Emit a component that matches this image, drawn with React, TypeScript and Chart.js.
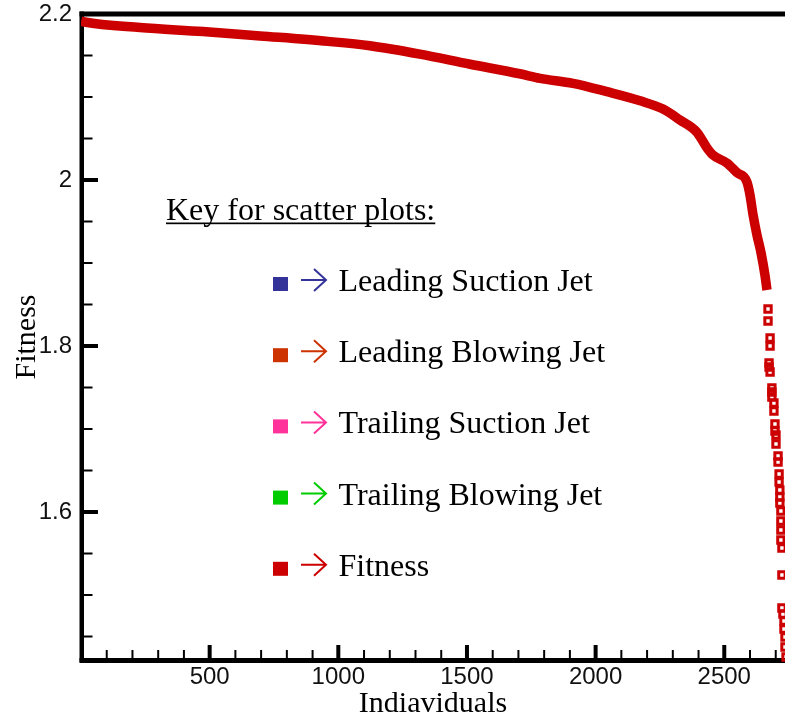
import React, { useEffect, useRef } from 'react';
import { Chart, registerables } from 'chart.js';

Chart.register(...registerables);

// Dense part of the sorted fitness curve (individual index, fitness)
const BAND_X = [0, 14, 229, 474, 696, 960, 1123, 1317, 1512, 1705, 1784, 1912, 2044, 2173, 2262, 2328, 2394, 2433, 2456, 2510, 2549, 2588, 2600, 2612, 2627, 2643, 2658, 2666];
const BAND_Y = [2.1916, 2.1904, 2.1837, 2.1789, 2.1736, 2.1670, 2.1617, 2.1516, 2.1395, 2.1280, 2.1225, 2.1165, 2.1064, 2.0954, 2.0855, 2.0723, 2.0575, 2.0386, 2.0301, 2.0205, 2.0090, 1.9976, 1.9819, 1.9578, 1.9337, 1.9120, 1.8855, 1.8675];

// Sparse tail of individual markers
const TAIL_X = [2670, 2670, 2678, 2678, 2674, 2674, 2678, 2685, 2685, 2685, 2693, 2693, 2697, 2697, 2701, 2701, 2709, 2709, 2713, 2713, 2716, 2716, 2716, 2720, 2720, 2720, 2720, 2724, 2724, 2724, 2728, 2732, 2732, 2736, 2736, 2740];
const TAIL_Y = [1.8446, 1.8301, 1.8096, 1.8000, 1.7795, 1.7747, 1.7687, 1.7494, 1.7446, 1.7386, 1.7313, 1.7217, 1.7060, 1.6976, 1.6928, 1.6819, 1.6675, 1.6602, 1.6458, 1.6361, 1.6265, 1.6181, 1.6108, 1.6012, 1.5892, 1.5783, 1.5663, 1.5566, 1.5241, 1.4843, 1.4771, 1.4687, 1.4590, 1.4494, 1.4373, 1.4253];

const X_TICKS = [100, 200, 300, 400, 500, 600, 700, 800, 900, 1000, 1100, 1200, 1300, 1400, 1500, 1600, 1700, 1800, 1900, 2000, 2100, 2200, 2300, 2400, 2500, 2600, 2700];
const X_LABELED = [500, 1000, 1500, 2000, 2500];
const Y_TICKS = [1.45, 1.5, 1.55, 1.6, 1.65, 1.7, 1.75, 1.8, 1.85, 1.9, 1.95, 2.0, 2.05, 2.1, 2.15, 2.2];
const Y_LABELED = [1.6, 1.8, 2.0, 2.2];

const KEY_TITLE = 'Key for scatter plots:';
const KEY_LABELS = ['Leading Suction Jet', 'Leading Blowing Jet', 'Trailing Suction Jet', 'Trailing Blowing Jet', 'Fitness'];
const KEY_COLORS = ['#333399', '#CC3300', '#FF3399', '#00CC00', '#CC0000'];

const FIT_COLOR = '#CC0000';

const framePlugin = {
  id: 'frame',
  beforeDatasetsDraw(chart: any) {
    const { ctx, chartArea: a, scales } = chart;
    const x = scales.x;
    const y = scales.y;
    ctx.save();
    ctx.strokeStyle = '#000';
    ctx.lineCap = 'butt';
    x.ticks.forEach((t: any) => {
      const px = x.getPixelForValue(t.value);
      const major = X_LABELED.includes(t.value);
      ctx.lineWidth = major ? 4 : 2;
      ctx.beginPath();
      ctx.moveTo(px, a.bottom);
      ctx.lineTo(px, a.bottom - (major ? 15 : 10));
      ctx.stroke();
    });
    y.ticks.forEach((t: any) => {
      const py = y.getPixelForValue(t.value);
      const major = Y_LABELED.includes(t.value);
      ctx.lineWidth = major ? 4 : 2;
      ctx.beginPath();
      ctx.moveTo(a.left, py);
      ctx.lineTo(a.left + (major ? 17 : 11.5), py);
      ctx.stroke();
    });
    ctx.lineWidth = 4.5;
    ctx.beginPath();
    ctx.moveTo(a.left + 0.75, a.bottom + 2);
    ctx.lineTo(a.left + 0.75, a.top - 2.5);
    ctx.stroke();
    ctx.lineWidth = 5;
    ctx.beginPath();
    ctx.moveTo(a.left - 1.5, a.top);
    ctx.lineTo(a.right, a.top);
    ctx.moveTo(a.left - 1.5, a.bottom + 0.5);
    ctx.lineTo(a.right, a.bottom + 0.5);
    ctx.stroke();
    ctx.restore();
  },
  afterDraw(chart: any) {
    const { ctx } = chart;
    ctx.save();
    ctx.font = '32px "Liberation Serif"';
    ctx.textBaseline = 'alphabetic';
    ctx.textAlign = 'left';
    ctx.fillStyle = '#000';
    ctx.fillText(KEY_TITLE, 166, 220);
    const w = ctx.measureText(KEY_TITLE).width;
    ctx.fillRect(166, 222.5, w, 1.7);
    KEY_LABELS.forEach((label, i) => {
      const base = 291 + i * 71.2;
      const c = KEY_COLORS[i];
      ctx.fillStyle = c;
      ctx.fillRect(273, base - 14, 15, 14);
      ctx.strokeStyle = c;
      ctx.lineWidth = 2;
      const ay = base - 11;
      ctx.beginPath();
      ctx.moveTo(301, ay);
      ctx.lineTo(326, ay);
      ctx.moveTo(314, ay - 11);
      ctx.lineTo(326, ay);
      ctx.lineTo(314, ay + 11);
      ctx.stroke();
      ctx.fillStyle = '#000';
      ctx.fillText(label, 338.5, base);
    });
    ctx.restore();
  },
};

export default function App() {
  const ref = useRef<HTMLCanvasElement | null>(null);

  useEffect(() => {
    document.body.style.margin = '0';
    document.body.style.overflow = 'hidden';
    const canvas = ref.current;
    if (!canvas) return;
    const chart = new Chart(canvas, {
      type: 'line',
      data: {
        datasets: [
          {
            label: 'Fitness',
            data: BAND_X.map((v, i) => ({ x: v, y: BAND_Y[i] })),
            borderColor: FIT_COLOR,
            backgroundColor: FIT_COLOR,
            borderWidth: 9.5,
            pointRadius: 0,
            cubicInterpolationMode: 'monotone',
            borderJoinStyle: 'round',
            borderCapStyle: 'butt',
          } as any,
          {
            type: 'scatter',
            label: 'Fitness tail',
            data: TAIL_X.map((v, i) => ({ x: v, y: TAIL_Y[i] })),
            showLine: false,
            pointStyle: 'rect',
            pointRadius: 4.5,
            borderWidth: 3,
            borderColor: FIT_COLOR,
            backgroundColor: 'rgba(255,255,255,0)',
            clip: false,
          } as any,
        ],
      },
      options: {
        responsive: false,
        animation: false,
        layout: { autoPadding: false, padding: { top: 14, left: 0, right: 0, bottom: 0 } },
        plugins: {
          legend: { display: false },
          tooltip: { enabled: false },
        },
        scales: {
          x: {
            type: 'linear',
            min: 0,
            max: 2736,
            afterBuildTicks: (s: any) => {
              s.ticks = X_TICKS.map((v) => ({ value: v }));
            },
            afterFit: (s: any) => {
              s.height = 65;
              s.paddingLeft = 0;
              s.paddingRight = 0;
            },
            grid: { display: false, drawTicks: false },
            border: { display: false },
            ticks: {
              autoSkip: false,
              maxRotation: 0,
              minRotation: 0,
              padding: 3,
              color: '#111',
              font: { family: '"Liberation Sans", Arial, sans-serif', size: 24 },
              callback: (v: any) => (X_LABELED.includes(v) ? String(v) : ''),
            },
            title: {
              display: true,
              text: 'Indiaviduals',
              color: '#000',
              font: { family: '"Liberation Serif", "Times New Roman", serif', size: 30 },
              padding: { top: 0, bottom: 3 },
            },
          },
          y: {
            type: 'linear',
            min: 1.4217,
            max: 2.2,
            afterBuildTicks: (s: any) => {
              s.ticks = Y_TICKS.map((v) => ({ value: v }));
            },
            afterFit: (s: any) => {
              s.width = 81;
              s.paddingTop = 0;
              s.paddingBottom = 0;
            },
            grid: { display: false, drawTicks: false },
            border: { display: false },
            ticks: {
              autoSkip: false,
              padding: 9,
              color: '#111',
              font: { family: '"Liberation Sans", Arial, sans-serif', size: 24 },
              callback: (v: any) => (Y_LABELED.includes(v) ? String(v) : ''),
            },
            title: {
              display: true,
              text: 'Fitness',
              color: '#000',
              font: { family: '"Liberation Serif", "Times New Roman", serif', size: 30 },
              padding: { top: 9, bottom: 0 },
            },
          },
        },
      },
      plugins: [framePlugin],
    });
    return () => chart.destroy();
  }, []);

  return <canvas ref={ref} width={785} height={725} style={{ display: 'block' }} />;
}
